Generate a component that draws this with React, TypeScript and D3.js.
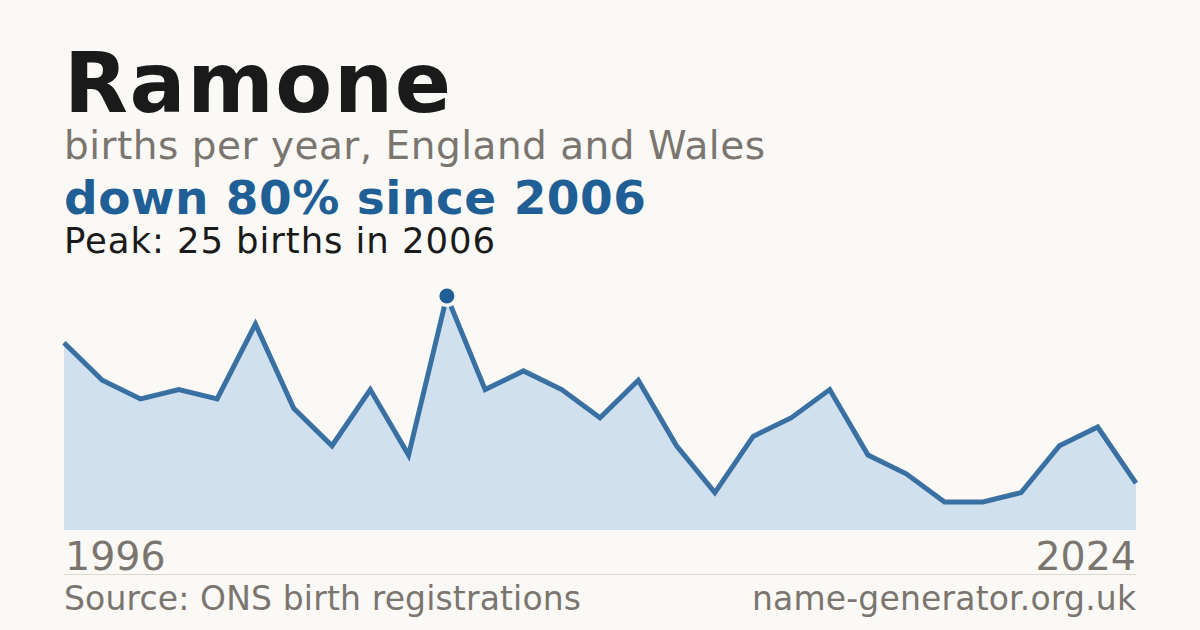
import React from "react";
import * as d3 from "d3";

const years = d3.range(1996, 2025);
const births = [
  20, 16, 14, 15, 14, 22, 13, 9, 15, 8, 25, 15, 17, 15, 12, 16, 9, 4, 10, 12,
  15, 8, 6, 3, 3, 4, 9, 11, 5,
];

const title = "Ramone";
const subtitle = "births per year, England and Wales";
const headline = "down 80% since 2006";
const peakLine = "Peak: 25 births in 2006";
const source = "Source: ONS birth registrations";
const site = "name-generator.org.uk";

const width = 1200;
const height = 630;
const font = "'DejaVu Sans', sans-serif";
const bg = "#faf9f5";
const grey = "#7a766f";
const blue = "#1f5f96";

const App = () => {
  const data = years.map((year, i) => ({ year, value: births[i] }));

  const x = d3.scaleLinear().domain([1996, 2024]).range([64, 1136]);
  const y = d3.scaleLinear().domain([0, 25]).range([530, 296]);

  const area = d3
    .area<{ year: number; value: number }>()
    .x((d) => x(d.year))
    .y0(y(0))
    .y1((d) => y(d.value));

  const line = d3
    .line<{ year: number; value: number }>()
    .x((d) => x(d.year))
    .y((d) => y(d.value));

  const peak = data.reduce((a, b) => (b.value > a.value ? b : a));

  return (
    <svg
      width={width}
      height={height}
      viewBox={`0 0 ${width} ${height}`}
      style={{ position: "absolute", left: 0, top: 0, fontFamily: font }}
    >
      <rect width={width} height={height} fill={bg} />

      <text x={64} y={112} fontSize={83} fontWeight="bold" fill="#1a1a1a"
        textLength={387} lengthAdjust="spacing">
        {title}
      </text>
      <text x={64} y={159} fontSize={39} fill={grey}
        textLength={701} lengthAdjust="spacing">
        {subtitle}
      </text>
      <text x={64} y={214} fontSize={47} fontWeight="bold" fill={blue}
        textLength={582} lengthAdjust="spacing">
        {headline}
      </text>
      <text x={64} y={253} fontSize={35.5} fill="#1a1a1a"
        textLength={431} lengthAdjust="spacing">
        {peakLine}
      </text>

      <path d={area(data) ?? ""} fill="#d0e0ef" />
      <path
        d={line(data) ?? ""}
        fill="none"
        stroke="#2a659b"
        strokeWidth={5}
        strokeOpacity={0.92}
        strokeLinejoin="miter"
      />
      <circle cx={x(peak.year)} cy={y(peak.value)} r={11} fill={bg} />
      <circle cx={x(peak.year)} cy={y(peak.value)} r={7.5} fill={blue} />

      <text x={65} y={570} fontSize={39.5} fill={grey}>
        {years[0]}
      </text>
      <text x={1136} y={570} fontSize={39.5} fill={grey} textAnchor="end">
        {years[years.length - 1]}
      </text>

      <line x1={64} x2={1136} y1={574.5} y2={574.5} stroke="#dcd8d0" strokeWidth={1} />

      <text x={64} y={610} fontSize={33} fill={grey}
        textLength={517} lengthAdjust="spacing">
        {source}
      </text>
      <text x={752} y={610} fontSize={33} fill={grey}
        textLength={384} lengthAdjust="spacing">
        {site}
      </text>
    </svg>
  );
};

export default App;
